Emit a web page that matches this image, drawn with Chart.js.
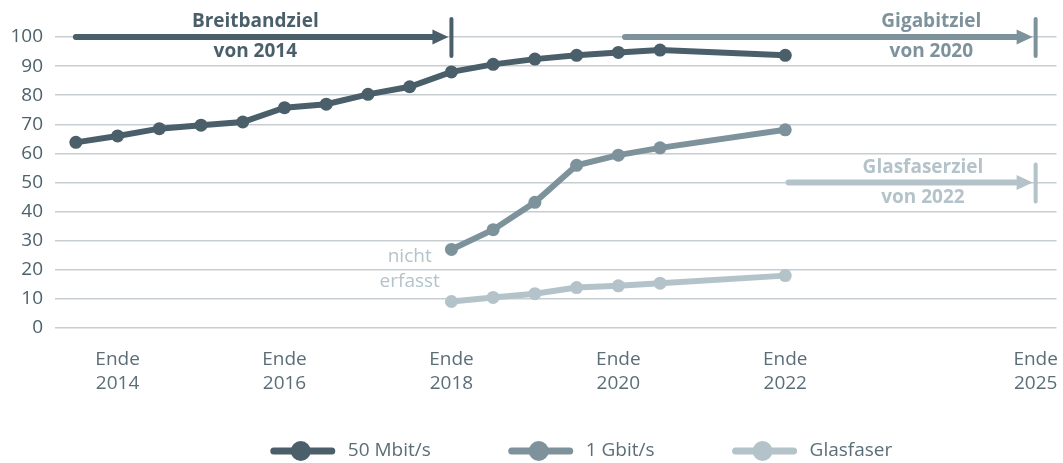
<!DOCTYPE html>
<html lang="de">
<head>
<meta charset="utf-8">
<script src="https://cdn.jsdelivr.net/npm/chart.js@4/dist/chart.umd.min.js"></script>
<style>
  html, body { margin: 0; padding: 0; background: #fff; }
  #wrap { width: 1063px; height: 463px; }
</style>
</head>
<body>
<div id="wrap"><canvas id="versorgung"></canvas></div>
<script>
// Stichtage (Ende YYYY = YYYY, Mitte = YYYY - 0.5)
const stichtage = [2013.5, 2014, 2014.5, 2015, 2015.5, 2016, 2016.5, 2017, 2017.5, 2018, 2018.5, 2019, 2019.5, 2020, 2020.5, 2022];
const werte50Mbit = [63.8, 66.0, 68.5, 69.7, 70.8, 75.7, 76.9, 80.3, 82.9, 88.0, 90.6, 92.4, 93.7, 94.7, 95.5, 93.7];
const werte1Gbit = [null, null, null, null, null, null, null, null, null, 27.0, 33.8, 43.2, 55.9, 59.4, 61.9, 68.1];
const werteGlasfaser = [null, null, null, null, null, null, null, null, null, 9.1, 10.5, 11.8, 13.9, 14.5, 15.4, 18.0];

const tickJahre = [2014, 2016, 2018, 2020, 2022, 2025];
const tickLabels = [['Ende', '2014'], ['Ende', '2016'], ['Ende', '2018'], ['Ende', '2020'], ['Ende', '2022'], ['Ende', '2025']];

// Ziele: Start, Ende (x), Wert (y), Beschriftung
const ziele = [
  { von: 2013.5, bis: 2018, wert: 100, text: ['Breitbandziel', 'von 2014'], textX: 2015.65 },
  { von: 2020.08, bis: 2025, wert: 100, text: ['Gigabitziel', 'von 2020'], textX: 2023.75 },
  { von: 2022.04, bis: 2025, wert: 50, text: ['Glasfaserziel', 'von 2022'], textX: 2023.65 }
];

const farben = ['#4a5f6a', '#7e929c', '#b4c3ca'];
const serien = ['50 Mbit/s', '1 Gbit/s', 'Glasfaser'];
const FONT = '"Open Sans", "Noto Sans", sans-serif';

function punkte(werte) {
  return stichtage.map((x, i) => ({ x: x, y: werte[i] }));
}

const zielePlugin = {
  id: 'ziele',
  afterDatasetsDraw(chart) {
    const { ctx, scales: { x, y } } = chart;
    ctx.save();
    ziele.forEach((z, i) => {
      const farbe = farben[i];
      const x0 = x.getPixelForValue(z.von);
      const x1 = x.getPixelForValue(z.bis);
      const yy = y.getPixelForValue(z.wert);
      ctx.strokeStyle = farbe; ctx.fillStyle = farbe;
      ctx.lineWidth = 6; ctx.lineCap = 'round';
      ctx.beginPath(); ctx.moveTo(x0, yy); ctx.lineTo(x1 - 16, yy); ctx.stroke();
      ctx.beginPath();
      ctx.moveTo(x1 - 3, yy); ctx.lineTo(x1 - 19, yy - 7.5); ctx.lineTo(x1 - 19, yy + 7.5); ctx.closePath(); ctx.fill();
      ctx.lineWidth = 4;
      ctx.beginPath(); ctx.moveTo(x1, yy - 18); ctx.lineTo(x1, yy + 19); ctx.stroke();
      const tx = x.getPixelForValue(z.textX);
      ctx.font = 'bold 19px ' + FONT;
      ctx.textAlign = 'center'; ctx.textBaseline = 'middle';
      ctx.fillText(z.text[0], tx, yy - 15);
      ctx.fillText(z.text[1], tx, yy + 15);
    });
    // nicht erfasst
    ctx.font = '19px ' + FONT;
    ctx.fillStyle = '#b4c3ca';
    ctx.textAlign = 'center'; ctx.textBaseline = 'middle';
    const nx = x.getPixelForValue(2017.5);
    ctx.fillText('nicht', nx, y.getPixelForValue(24.4));
    ctx.fillText('erfasst', nx, y.getPixelForValue(15.8));
    ctx.restore();
  }
};

// eigene Legende: Linie mit Punkt, darunter zentriert
const legendePlugin = {
  id: 'legende',
  afterDraw(chart) {
    const ctx = chart.ctx;
    const sym = 64, abstand = 13, luecke = 78;
    ctx.save();
    ctx.font = '19px ' + FONT;
    const breiten = chart.data.datasets.map(ds => ctx.measureText(ds.label).width);
    const gesamt = breiten.reduce((s, b) => s + sym + abstand + b, 0) + luecke * (breiten.length - 1);
    let cx = chart.width / 2 + 50 - gesamt / 2;
    const cy = chart.height - 12;
    chart.data.datasets.forEach((ds, i) => {
      ctx.strokeStyle = farben[i]; ctx.fillStyle = farben[i];
      ctx.lineWidth = 7; ctx.lineCap = 'round';
      ctx.beginPath(); ctx.moveTo(cx + 3, cy); ctx.lineTo(cx + sym - 3, cy); ctx.stroke();
      ctx.beginPath(); ctx.arc(cx + sym / 2 - 2, cy, 10, 0, Math.PI * 2); ctx.fill();
      ctx.fillStyle = '#5b6e78';
      ctx.textAlign = 'left'; ctx.textBaseline = 'middle';
      ctx.fillText(ds.label, cx + sym + abstand, cy);
      cx += sym + abstand + breiten[i] + luecke;
    });
    ctx.restore();
  }
};

const datensaetze = [werte50Mbit, werte1Gbit, werteGlasfaser].map((werte, i) => ({
  label: serien[i],
  data: punkte(werte),
  borderColor: farben[i],
  backgroundColor: farben[i],
  borderWidth: 6,
  pointRadius: 6.5,
  pointHoverRadius: 6.5,
  pointBorderWidth: 0,
  tension: 0,
  spanGaps: false
}));

new Chart(document.getElementById('versorgung'), {
  type: 'line',
  data: { datasets: datensaetze },
  options: {
    responsive: true,
    maintainAspectRatio: false,
    animation: false,
    layout: { padding: { top: 37, right: 0, left: 0, bottom: 65 } },
    scales: {
      x: {
        type: 'linear',
        min: 2013.25,
        max: 2025.25,
        afterBuildTicks: scale => { scale.ticks = tickJahre.map(v => ({ value: v })); },
        afterFit: scale => { scale.height = 70; scale.paddingLeft = 0; scale.paddingRight = 0; },
        grid: { display: false },
        border: { display: false },
        ticks: {
          autoSkip: false,
          maxRotation: 0,
          padding: 12,
          color: '#5b6e78',
          font: { family: FONT, size: 19, lineHeight: 1.26 },
          callback: v => tickLabels[tickJahre.indexOf(v)]
        }
      },
      y: {
        min: 0,
        max: 100,
        afterFit: scale => { scale.width = 55; scale.paddingTop = 0; scale.paddingBottom = 0; },
        border: { display: false },
        grid: { color: '#c6ced2', lineWidth: 1.5, drawTicks: false },
        ticks: {
          stepSize: 10,
          padding: 12,
          color: '#4e626c',
          font: { family: FONT, size: 19 }
        }
      }
    },
    plugins: {
      tooltip: { enabled: false },
      legend: { display: false }
    }
  },
  plugins: [zielePlugin, legendePlugin]
});
</script>
</body>
</html>
